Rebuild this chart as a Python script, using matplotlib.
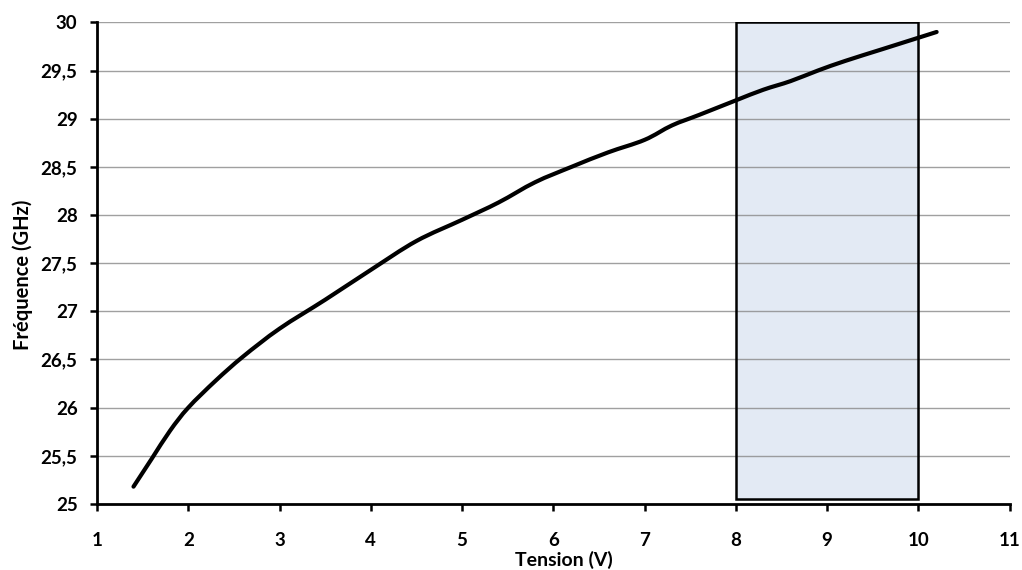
import matplotlib
matplotlib.use("Agg")
import numpy as np
import matplotlib.pyplot as plt
from matplotlib.patches import Rectangle, PathPatch
from matplotlib.path import Path

tension = [1.4, 1.6, 1.8, 2.0, 2.3, 2.6, 3.0, 3.5, 4.0, 4.5, 5.0, 5.4, 5.8,
           6.2, 6.6, 7.0, 7.3, 7.6, 8.0, 8.3, 8.6, 8.9, 9.2, 9.6, 10.0, 10.2]
frequence = [25.18, 25.47, 25.76, 26.0, 26.28, 26.53, 26.82, 27.12, 27.43,
             27.73, 27.95, 28.13, 28.34, 28.5, 28.65, 28.78, 28.93, 29.04,
             29.19, 29.3, 29.39, 29.5, 29.6, 29.72, 29.84, 29.9]
zone_x = [8, 10]
zone_y = [25.05, 30]
x_ticks = list(range(1, 12))
y_ticks = [25, 25.5, 26, 26.5, 27, 27.5, 28, 28.5, 29, 29.5, 30]
y_labels = ["25", "25,5", "26", "26,5", "27", "27,5", "28", "28,5", "29", "29,5", "30"]

plt.rcParams['font.family'] = ['Lato', 'DejaVu Sans']
plt.rcParams['font.weight'] = 'bold'

fig = plt.figure(figsize=(10.22, 5.70), dpi=100)
ax = fig.add_axes([0.0949, 0.1158, 0.893, 0.845])

ax.set_xlim(1, 11)
ax.set_ylim(25, 30)

# zone fill
ax.add_patch(Rectangle((zone_x[0], zone_y[0]), zone_x[1] - zone_x[0], zone_y[1] - zone_y[0],
                       facecolor='#E3EAF4', edgecolor='none', zorder=0.5))
for yv in y_ticks[1:]:
    ax.axhline(yv, color='#8f8f8f', lw=1.0, alpha=0.85, zorder=1)
ax.add_patch(Rectangle((zone_x[0], zone_y[0]), zone_x[1] - zone_x[0], zone_y[1] - zone_y[0],
                       facecolor='none', edgecolor='black', lw=1.8, zorder=2))

# smoothed line (Catmull-Rom rendered as cubic Bezier path, like Excel smoothing)
P = np.column_stack([tension, frequence])
verts = [P[0]]
codes = [Path.MOVETO]
n = len(P)
for i in range(n - 1):
    p0 = P[i - 1] if i > 0 else P[i]
    p1 = P[i]
    p2 = P[i + 1]
    p3 = P[i + 2] if i + 2 < n else P[i + 1]
    c1 = p1 + (p2 - p0) / 6.0
    c2 = p2 - (p3 - p1) / 6.0
    verts += [c1, c2, p2]
    codes += [Path.CURVE4, Path.CURVE4, Path.CURVE4]
ax.add_patch(PathPatch(Path(verts, codes), facecolor='none', edgecolor='black',
                       lw=3, capstyle='round', joinstyle='round', zorder=3))

ax.set_xticks(x_ticks)
ax.set_xticklabels([str(v) for v in x_ticks])
ax.set_yticks(y_ticks)
ax.set_yticklabels(y_labels)
ax.tick_params(axis='both', direction='out', length=5, width=1.8, labelsize=13.5)
ax.tick_params(axis='x', pad=15)
ax.tick_params(axis='y', pad=9)
for lab in ax.get_xticklabels() + ax.get_yticklabels():
    lab.set_fontweight('bold')

for s in ['top', 'right']:
    ax.spines[s].set_visible(False)
for s in ['left', 'bottom']:
    ax.spines[s].set_linewidth(2)
    ax.spines[s].set_color('black')
    ax.spines[s].set_zorder(4)

ax.set_xlabel('Tension (V)', fontsize=14, fontweight='bold')
ax.set_ylabel('Fréquence (GHz)', fontsize=14.5, fontweight='bold')
ax.xaxis.set_label_coords(0.512, -0.097)
ax.yaxis.set_label_coords(-0.070, 0.475)

fig.savefig('out.png', dpi=100)
